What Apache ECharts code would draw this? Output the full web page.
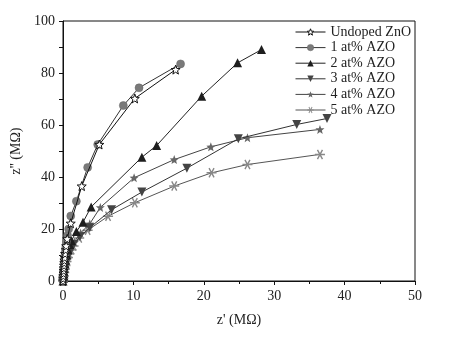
<!DOCTYPE html>
<html>
<head>
<meta charset="utf-8">
<script src="https://cdn.jsdelivr.net/npm/echarts@6/dist/echarts.min.js"></script>
<style>
  html, body { margin: 0; padding: 0; background: #fff; }
  #chart { width: 454px; height: 340px; }
</style>
</head>
<body>
<div id="chart"></div>
<script>
// Nyquist data: [z' (MΩ), z'' (MΩ)]
const seriesNames = ['Undoped ZnO', '1 at% AZO', '2 at% AZO', '3 at% AZO', '4 at% AZO', '5 at% AZO'];

const undoped = [[0,0],[0.03,1],[0.05,2],[0.08,3],[0.1,4],[0.12,5],[0.15,6],[0.18,7],[0.2,8],[0.25,9],[0.3,10.5],[0.38,12],[0.45,13.5],[0.6,16.2],[1.1,22.2],[2.66,36.5],[5.16,52.5],[10.2,70.2],[16.0,81.3]];
const azo1 = [[0,0],[0.03,1.2],[0.05,2.5],[0.08,3.8],[0.1,5],[0.15,6.5],[0.2,8],[0.25,9.5],[0.3,11],[0.4,13],[0.5,15],[0.65,17.5],[0.8,20],[1.1,25],[1.9,30.7],[3.5,43.7],[4.93,52.5],[8.57,67.5],[10.8,74.3],[16.7,83.5]];
const azo2 = [[0,0],[0.05,1],[0.1,2],[0.15,3.5],[0.2,5],[0.3,6.5],[0.4,8],[0.55,10],[0.7,12],[0.95,14],[1.2,15.5],[1.9,19],[2.84,22.6],[4.0,28.5],[11.2,47.6],[13.3,52.1],[19.7,71.1],[24.8,83.9],[28.2,89]];
const azo3 = [[0,0],[0.05,1],[0.1,2],[0.18,3.5],[0.25,5],[0.35,6.5],[0.5,8],[0.7,9.5],[0.9,11],[1.2,12.5],[1.5,14],[2.4,17],[3.8,20.5],[6.9,27.4],[11.2,34.2],[17.6,43.4],[24.9,54.7],[33.2,60.2],[37.5,62.5]];
const azo4 = [[0,0],[0.05,1],[0.1,2],[0.18,3.5],[0.25,5],[0.35,6.5],[0.5,8],[0.7,10],[0.9,11.5],[1.2,13.3],[1.6,15],[2.5,18.5],[3.8,22],[5.3,28.3],[10.1,39.7],[15.8,46.7],[21.0,51.6],[26.2,55.1],[36.5,58.3]];
const azo5 = [[0,0],[0.05,1],[0.1,2],[0.18,3.3],[0.25,4.5],[0.35,6],[0.5,7.5],[0.7,9],[0.9,10.5],[1.2,12],[1.5,13.5],[2.3,16.5],[3.5,19.5],[6.4,24.9],[10.2,30.1],[15.8,36.5],[21.1,41.6],[26.2,44.8],[36.5,48.7]];

const xTicks = [0, 10, 20, 30, 40, 50];
const yTicks = [0, 20, 40, 60, 80, 100];

// marker shapes
function starPath(n, rOut, rIn) {
  let d = '';
  for (let i = 0; i < 2 * n; i++) {
    const r = i % 2 ? rIn : rOut;
    const a = -Math.PI / 2 + i * Math.PI / n;
    d += (i ? 'L' : 'M') + (r * Math.cos(a)).toFixed(3) + ',' + (r * Math.sin(a)).toFixed(3);
  }
  return 'path://' + d + 'Z';
}
function asteriskPath() {
  let d = '';
  const w = 0.14, l = 1;
  [0, 60, 120].forEach(deg => {
    const a = deg * Math.PI / 180, c = Math.cos(a), s = Math.sin(a);
    const pts = [[-l, -w], [l, -w], [l, w], [-l, w]].map(p => [p[0] * c - p[1] * s, p[0] * s + p[1] * c]);
    d += 'M' + pts.map(p => p[0].toFixed(3) + ',' + p[1].toFixed(3)).join('L') + 'Z';
  });
  return 'path://' + d;
}
const STAR = starPath(5, 1, 0.42);
const ASTER = asteriskPath();
const DOWN_TRI = 'path://M0,0L10,0L5,9Z';

const font = '"Liberation Serif", "Times New Roman", serif';

const styles = [
  { data: undoped, symbol: STAR, size: 9, fill: '#fff', stroke: '#111', line: '#111', bw: 1 },
  { data: azo1, symbol: 'circle', size: 8, fill: '#7a7a7a', stroke: '#666', line: '#333', bw: 0.5 },
  { data: azo2, symbol: 'triangle', size: 9, fill: '#1e1e1e', stroke: '#1e1e1e', line: '#222', bw: 0 },
  { data: azo3, symbol: DOWN_TRI, size: 9, fill: '#444', stroke: '#444', line: '#333', bw: 0 },
  { data: azo4, symbol: STAR, size: 9, fill: '#666', stroke: '#666', line: '#444', bw: 0 },
  { data: azo5, symbol: ASTER, size: 10, fill: '#888', stroke: '#888', line: '#555', bw: 0 }
];

const series = styles.map((s, i) => ({
  name: seriesNames[i],
  type: 'line',
  data: s.data,
  symbol: s.symbol,
  symbolSize: s.size,
  showAllSymbol: true,
  animation: false,
  lineStyle: { color: s.line, width: 1 },
  itemStyle: { color: s.fill, borderColor: s.stroke, borderWidth: s.bw },
  z: 10 - i
}));

const legendData = styles.map((s, i) => ({
  name: seriesNames[i],
  itemStyle: { color: s.fill, borderColor: s.stroke, borderWidth: s.bw },
  lineStyle: { color: s.line, width: 1 }
}));

const chart = echarts.init(document.getElementById('chart'));
chart.setOption({
  backgroundColor: '#fff',
  animation: false,
  grid: { left: 63, top: 21, width: 352, height: 260, show: true, borderColor: '#111', borderWidth: 1, backgroundColor: 'transparent' },
  legend: {
    orient: 'vertical',
    left: 290,
    top: 20,
    itemWidth: 30,
    itemHeight: 8,
    itemGap: 1.6,
    data: legendData,
    textStyle: { fontFamily: font, fontSize: 14, color: '#222', lineHeight: 14 }
  },
  xAxis: {
    type: 'value',
    min: 0, max: 50, interval: 10,
    name: "z' (MΩ)",
    nameLocation: 'middle',
    nameGap: 32,
    nameTextStyle: { fontFamily: font, fontSize: 14, color: '#222' },
    axisLine: { lineStyle: { color: '#111', width: 1 } },
    axisTick: { show: true, inside: false, length: 4, lineStyle: { color: '#111' } },
    minorTick: { show: true, splitNumber: 2, length: 3, lineStyle: { color: '#111' } },
    axisLabel: { fontFamily: font, fontSize: 14, color: '#222', margin: 8,
      formatter: v => xTicks.includes(v) ? String(v) : '' },
    splitLine: { show: false }
  },
  yAxis: {
    type: 'value',
    min: 0, max: 100, interval: 20,
    name: "z'' (MΩ)",
    nameLocation: 'middle',
    nameGap: 33,
    nameRotate: 90,
    nameTextStyle: { fontFamily: font, fontSize: 14, color: '#222' },
    axisLine: { show: true, lineStyle: { color: '#111', width: 1 } },
    axisTick: { show: true, inside: false, length: 4, lineStyle: { color: '#111' } },
    minorTick: { show: true, splitNumber: 2, length: 4, lineStyle: { color: '#111' } },
    axisLabel: { fontFamily: font, fontSize: 14, color: '#222', margin: 8,
      formatter: v => yTicks.includes(v) ? String(v) : '' },
    splitLine: { show: false }
  },
  series: series
});
</script>
</body>
</html>
